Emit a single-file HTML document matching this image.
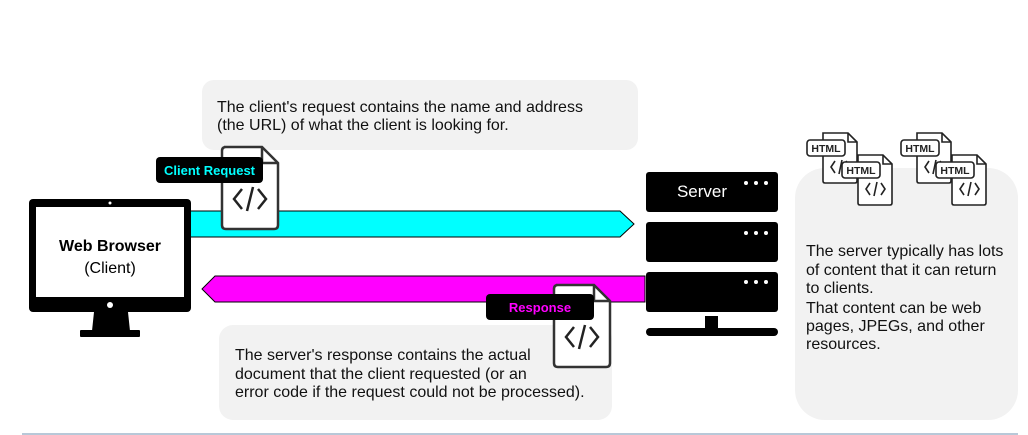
<!DOCTYPE html>
<html><head><meta charset="utf-8"><style>
html,body{margin:0;padding:0;background:#fff;width:1028px;height:435px;overflow:hidden}
svg text{font-family:"Liberation Sans",Arial,sans-serif}
</style></head><body>
<svg width="1028" height="435" viewBox="0 0 1028 435" xmlns="http://www.w3.org/2000/svg">
<defs>
<g id="doc">
<path d="M2,0 H40 L56,16 V78 Q56,82 52,82 H4 Q0,82 0,78 V4 Q0,0 4,0 Z" fill="#fff" stroke="#333" stroke-width="2.5"/>
<path d="M40,0 V16 H56" fill="none" stroke="#333" stroke-width="2.5"/>
<path d="M20,42 L12,52 L20,62 M36,42 L44,52 L36,62 M31,40 L25,64" fill="none" stroke="#222" stroke-width="2.5"/>
</g>
<g id="hdoc">
<path d="M1,0 H26 L35,9 V48 Q35,50 33,50 H3 Q1,50 1,48 Z" fill="#fff" stroke="#222" stroke-width="1.6"/>
<path d="M26,0 V9 H35" fill="none" stroke="#222" stroke-width="1.6"/>
<path d="M13,28 L9,34 L13,40 M24,28 L28,34 L24,40 M20,27 L17,41" fill="none" stroke="#222" stroke-width="1.6"/>
<rect x="-15" y="7" width="38" height="16" rx="3" fill="#fff" stroke="#222" stroke-width="1.6"/>
<text x="4" y="19" font-size="10.5" font-weight="bold" text-anchor="middle" fill="#222">HTML</text>
</g>
</defs>

<rect x="202" y="80" width="436" height="70" rx="12" fill="#f2f2f2"/>
<text font-size="16" fill="#111"><tspan x="217" y="112">The client's request contains the name and address</tspan><tspan x="217" y="130">(the URL) of what the client is looking for.</tspan></text>

<rect x="219" y="325" width="393" height="95" rx="14" fill="#f2f2f2"/>
<text font-size="16" fill="#111"><tspan x="235" y="360">The server's response contains the actual</tspan><tspan x="235" y="379">document that the client requested (or an</tspan><tspan x="235" y="397">error code if the request could not be processed).</tspan></text>

<rect x="795" y="168" width="223" height="252" rx="30" fill="#f2f2f2"/>
<text font-size="16" fill="#111"><tspan x="806" y="256">The server typically has lots</tspan><tspan x="806" y="275">of content that it can return</tspan><tspan x="806" y="293">to clients.</tspan><tspan x="806" y="313">That content can be web</tspan><tspan x="806" y="331">pages, JPEGs, and other</tspan><tspan x="806" y="349">resources.</tspan></text>

<use href="#hdoc" x="822" y="133"/>
<use href="#hdoc" x="857" y="155"/>
<use href="#hdoc" x="916" y="133"/>
<use href="#hdoc" x="951" y="155"/>

<polygon points="185,211 620,211 634,224 620,237 185,237" fill="#00ffff" stroke="#000" stroke-width="1"/>
<polygon points="645,276 215,276 202,289 215,302 645,302" fill="#ff00ff" stroke="#000" stroke-width="1"/>

<rect x="29" y="199" width="162" height="113" rx="4" fill="#000"/>
<rect x="36" y="207" width="148" height="90" fill="#fff"/>
<circle cx="110" cy="203" r="1.5" fill="#fff"/>
<circle cx="110" cy="305" r="3" fill="#fff"/>
<polygon points="94,312 128,312 130,331 92,331" fill="#000"/>
<rect x="80" y="330" width="60" height="7" rx="1" fill="#000"/>
<text x="110" y="251" font-size="16" font-weight="bold" text-anchor="middle" fill="#000">Web Browser</text>
<text x="110" y="273" font-size="16" text-anchor="middle" fill="#000">(Client)</text>

<use href="#doc" x="222" y="147"/>
<rect x="156" y="157" width="107" height="26" rx="4" fill="#000"/>
<text x="209.5" y="175" font-size="13" font-weight="bold" text-anchor="middle" fill="#00ffff">Client Request</text>

<rect x="646" y="172" width="132" height="40" rx="3" fill="#000"/>
<rect x="646" y="222" width="132" height="40" rx="3" fill="#000"/>
<rect x="646" y="272" width="132" height="40" rx="3" fill="#000"/>
<rect x="705" y="316" width="13" height="12" fill="#000"/>
<rect x="646" y="328" width="132" height="8" rx="4" fill="#000"/>
<g fill="#fff">
<circle cx="746" cy="183" r="2"/><circle cx="756" cy="183" r="2"/><circle cx="766" cy="183" r="2"/>
<circle cx="746" cy="233" r="2"/><circle cx="756" cy="233" r="2"/><circle cx="766" cy="233" r="2"/>
<circle cx="746" cy="282" r="2"/><circle cx="756" cy="282" r="2"/><circle cx="766" cy="282" r="2"/>
</g>
<text x="702" y="197" font-size="17" text-anchor="middle" fill="#fff">Server</text>

<use href="#doc" x="554" y="285"/>
<rect x="486" y="294" width="108" height="26" rx="4" fill="#000"/>
<text x="540" y="312" font-size="13" font-weight="bold" text-anchor="middle" fill="#ff00ff">Response</text>

<rect x="22" y="433" width="996" height="2" fill="#b8c8d8"/>
</svg>
</body></html>
